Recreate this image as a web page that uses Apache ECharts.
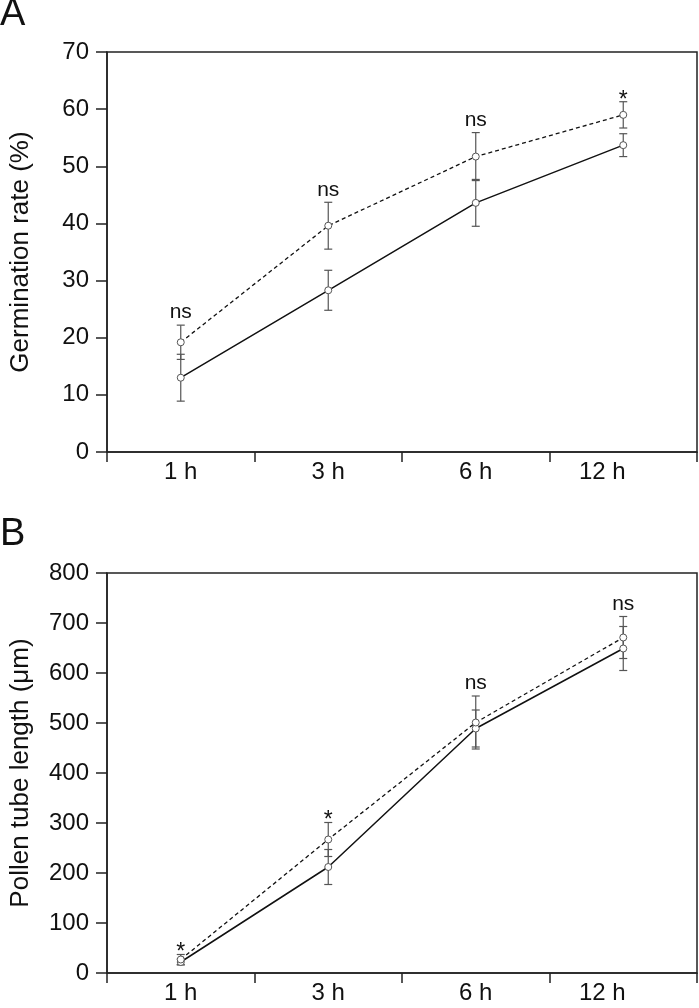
<!DOCTYPE html>
<html>
<head>
<meta charset="utf-8">
<script src="https://cdn.jsdelivr.net/npm/echarts@6/dist/echarts.min.js"></script>
<style>html,body{margin:0;padding:0;background:#fff;}#c{width:699px;height:1008px;}</style>
</head>
<body>
<div id="c"></div>
<script>
const categories = ['1 h', '3 h', '6 h', '12 h'];
// Panel A: germination rate (%)
const germSolid = [13.0, 28.3, 43.6, 53.7];
const germSolidErr = [4.1, 3.5, 4.1, 2.0];
const germDashed = [19.2, 39.6, 51.7, 59.0];
const germDashedErr = [3.0, 4.1, 4.2, 2.3];
const germSig = ['ns', 'ns', 'ns', '*'];
// Panel B: pollen tube length (µm)
const tubeSolid = [22, 212, 489, 649];
const tubeSolidErr = [6, 35, 37, 44];
const tubeDashed = [27, 267, 501, 671];
const tubeDashedErr = [10, 34, 53, 42];
const tubeSig = ['*', '*', 'ns', 'ns'];
const yTicksA = {min: 0, max: 70, interval: 10};
const yTicksB = {min: 0, max: 800, interval: 100};

const FONT = 'Liberation Sans, Arial, sans-serif';
const AX = '#222';

function catData() {
  return categories.map((c, i) => i === categories.length - 1
    ? {value: c, textStyle: {padding: [0, 42, 0, 0]}} : c);
}
function xAxis(gi) {
  return {
    type: 'category', gridIndex: gi, data: catData(), boundaryGap: true,
    axisLine: {lineStyle: {color: AX, width: 1.5}},
    axisTick: {show: true, length: 10, lineStyle: {color: AX, width: 1.5}},
    axisLabel: {color: '#111', fontSize: 24, margin: 8, fontFamily: FONT},
    splitLine: {show: false}
  };
}
function yAxis(gi, ticks, name) {
  return {
    type: 'value', gridIndex: gi, min: ticks.min, max: ticks.max, interval: ticks.interval,
    axisLine: {show: true, lineStyle: {color: AX, width: 1.5}},
    axisTick: {show: true, length: 11, lineStyle: {color: AX, width: 1.5}},
    axisLabel: {color: '#111', fontSize: 24, margin: 18, fontFamily: FONT},
    splitLine: {show: false},
    name: name, nameLocation: 'middle', nameRotate: 90, nameGap: 73,
    nameTextStyle: {color: '#111', fontSize: 26, fontFamily: FONT}
  };
}
function lineSeries(gi, vals, dashed) {
  return {
    type: 'line', xAxisIndex: gi, yAxisIndex: gi, data: vals, z: 5,
    symbol: 'circle', symbolSize: 7,
    itemStyle: {color: '#fff', borderColor: '#555', borderWidth: 1},
    lineStyle: {color: '#111', width: dashed ? 1.3 : 1.5, type: dashed ? [4, 3] : 'solid'}
  };
}
function errSeries(gi, vals, errs) {
  return {
    type: 'custom', xAxisIndex: gi, yAxisIndex: gi, z: 3,
    data: vals.map((v, i) => [i, v - errs[i], v + errs[i]]),
    encode: {x: 0, y: [1, 2]},
    renderItem: function (params, api) {
      const lo = api.coord([api.value(0), api.value(1)]);
      const hi = api.coord([api.value(0), api.value(2)]);
      const w = 4;
      const st = {stroke: '#555', lineWidth: 1.2};
      return {type: 'group', children: [
        {type: 'line', shape: {x1: lo[0], y1: lo[1], x2: hi[0], y2: hi[1]}, style: st},
        {type: 'line', shape: {x1: lo[0] - w, y1: lo[1], x2: lo[0] + w, y2: lo[1]}, style: st},
        {type: 'line', shape: {x1: hi[0] - w, y1: hi[1], x2: hi[0] + w, y2: hi[1]}, style: st}
      ]};
    }
  };
}
function sigSeries(gi, a, ae, b, be, sig) {
  return {
    type: 'custom', xAxisIndex: gi, yAxisIndex: gi, z: 6,
    data: sig.map((s, i) => [i, Math.max(a[i] + ae[i], b[i] + be[i]), s]),
    encode: {x: 0, y: 1},
    renderItem: function (params, api) {
      const p = api.coord([api.value(0), api.value(1)]);
      const s = sig[params.dataIndex];
      const star = s === '*';
      return {type: 'text', x: p[0], y: p[1] + (star ? 10 : -2),
        style: {text: s, fill: '#111', fontSize: star ? 23 : 21, fontFamily: FONT,
          align: 'center', verticalAlign: 'bottom'}};
    }
  };
}

const chart = echarts.init(document.getElementById('c'), null, {renderer: 'canvas'});
chart.setOption({
  animation: false,
  backgroundColor: '#fff',
  textStyle: {fontFamily: FONT},
  graphic: [
    {type: 'text', left: 0, top: -4, style: {text: 'A', fontSize: 38, fill: '#111', fontFamily: FONT}},
    {type: 'text', left: 0, top: 516, style: {text: 'B', fontSize: 38, fill: '#111', fontFamily: FONT}}
  ],
  grid: [
    {left: 100, right: 2, top: 52, height: 400, show: true, borderColor: AX, borderWidth: 1.5, backgroundColor: 'transparent'},
    {left: 100, right: 2, top: 573, height: 400, show: true, borderColor: AX, borderWidth: 1.5, backgroundColor: 'transparent'}
  ],
  xAxis: [xAxis(0), xAxis(1)],
  yAxis: [yAxis(0, yTicksA, 'Germination rate (%)'), yAxis(1, yTicksB, 'Pollen tube length (\u03bcm)')],
  series: [
    errSeries(0, germSolid, germSolidErr),
    errSeries(0, germDashed, germDashedErr),
    lineSeries(0, germSolid, false),
    lineSeries(0, germDashed, true),
    sigSeries(0, germSolid, germSolidErr, germDashed, germDashedErr, germSig),
    errSeries(1, tubeSolid, tubeSolidErr),
    errSeries(1, tubeDashed, tubeDashedErr),
    lineSeries(1, tubeSolid, false),
    lineSeries(1, tubeDashed, true),
    sigSeries(1, tubeSolid, tubeSolidErr, tubeDashed, tubeDashedErr, tubeSig)
  ]
});
</script>
</body>
</html>
